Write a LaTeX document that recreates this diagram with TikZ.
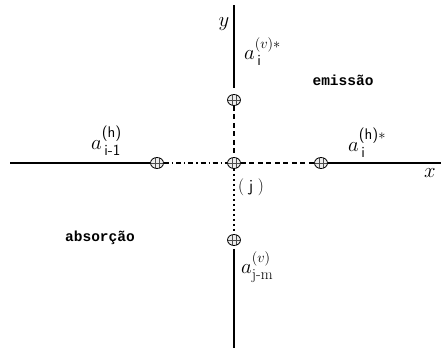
\documentclass[tikz,border=0pt]{standalone}
\usepackage{amsmath}
\usepackage{fontspec}
\newfontfamily\labfont{Liberation Mono}
\usetikzlibrary{calc,shapes.geometric}
\tikzset{
  axis/.style={line width=1.1pt, black},
  dashax/.style={line width=1.1pt, black, dash pattern=on 5pt off 3.5pt},
  dashdotax/.style={line width=1.1pt, black, dash pattern=on 5pt off 3pt on 1.2pt off 3pt},
  dotax/.style={line width=1.1pt, black, dash pattern=on 2.5pt off 2.5pt},
  site/.style={ellipse, draw=black, line width=0.8pt, minimum width=13pt, minimum height=11pt, inner sep=0pt, fill=gray!15,
    path picture={\draw[line width=0.6pt, gray!60!black]
      (path picture bounding box.west) -- (path picture bounding box.east)
      ($(path picture bounding box.north)+(-2pt,0)$) -- ($(path picture bounding box.south)+(-2pt,0)$)
      ($(path picture bounding box.north)+(2pt,0)$) -- ($(path picture bounding box.south)+(2pt,0)$);}},
  lab/.style={inner sep=0pt, font=\labfont\bfseries\fontsize{14.5}{16}\selectfont},
  mlab/.style={inner sep=0pt, font=\fontsize{22}{26}\selectfont}
}
\begin{document}
\begin{tikzpicture}[x=1pt,y=-1pt]
\useasboundingbox (0,0) rectangle (441,348);
% coordinates
\coordinate (vtop) at (234,5);
\coordinate (vbot) at (234,348);
\coordinate (hl) at (10,163);
\coordinate (hr) at (441,163);
\node[site] (c) at (234,163) {};
\node[site] (t) at (234,100) {};
\node[site] (b) at (234,240) {};
\node[site] (l) at (157,163) {};
\node[site] (r) at (321,163) {};
% lines
\draw[axis] (vtop) -- ($(t.north)+(0,-6)$);
\draw[dashax] (t.south) -- (c.north);
\draw[dotax] (c.south) -- (b.north);
\draw[axis] ($(b.south)+(0,3)$) -- (vbot);
\draw[axis] (hl) -- (l.west);
\draw[dashdotax] (l.east) -- (c.west);
\draw[dashax] (c.east) -- (r.west);
\draw[axis] (r.east) -- (hr);
% labels
\node[mlab] (ly) at (224,24) {$y$};
\node[mlab] (lx) at (430,173) {$x$};
\node[mlab, anchor=base west] (av) at (244,59) {$a^{(v)*}_{\,\textsf{i}}$};
\node[mlab, anchor=base west] (ah1) at (91,149) {$a^{\textsf{(h)}}_{\,\textsf{i-1}}$};
\node[mlab, anchor=base west] (ah) at (348,151) {$a^{\textsf{(h)}*}_{\,\textsf{i}}$};
\node[mlab, anchor=base west] (avm) at (241,273) {$a^{(v)}_{\text{j-m}}$};
\node[inner sep=0pt, font=\fontsize{17}{19}\selectfont] (j) at (251,187) {(\;\textsf{j}\;)};
\node[lab] (em) at (343,80) {emissão};
\node[lab] (ab) at (100,238) {absorção};
\end{tikzpicture}
\end{document}
